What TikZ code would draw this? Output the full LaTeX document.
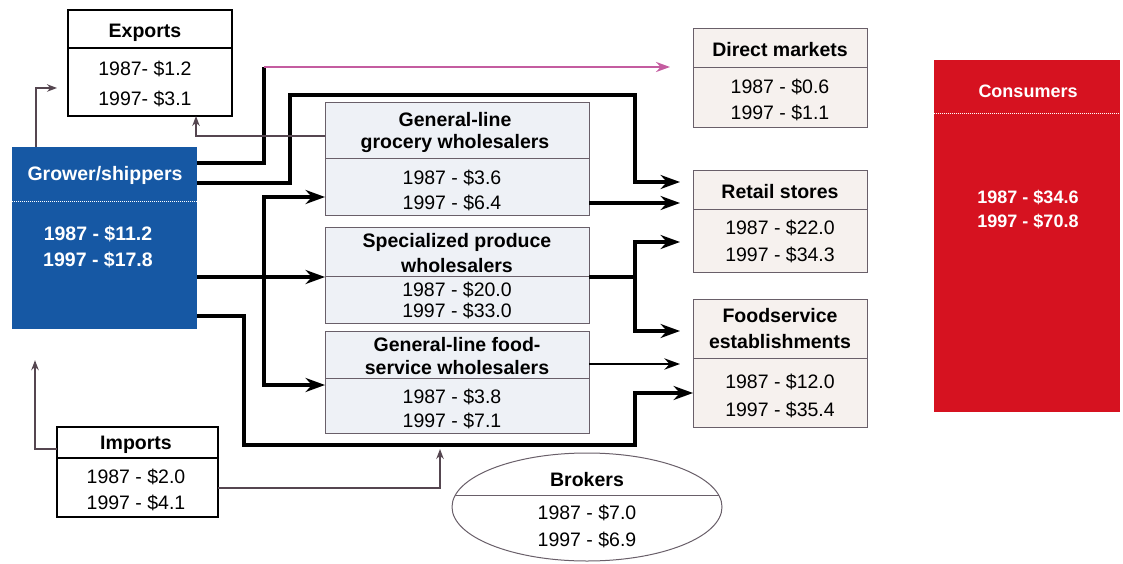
\documentclass[tikz,border=0pt]{standalone}
\usepackage{fontspec}
\setmainfont{Liberation Sans}
\usetikzlibrary{shapes.geometric,arrows.meta,calc}

\definecolor{growerblue}{RGB}{22,88,164}
\definecolor{consred}{RGB}{214,18,32}
\definecolor{wfill}{RGB}{238,241,246}
\definecolor{mfill}{RGB}{246,241,238}
\definecolor{edgegray}{RGB}{105,95,105}
\definecolor{feedline}{RGB}{85,70,80}
\definecolor{dmline}{RGB}{196,92,160}
\newcommand{\boxfont}{\fontsize{19.5}{23}\selectfont}
\newcommand{\consfont}{\fontsize{18}{22}\selectfont}

\begin{document}
\begin{tikzpicture}[
    x=1pt, y=-1pt,
    >={Stealth[length=8pt 3, width'=0pt 0.72]},
    box/.style={rectangle, draw=black, line width=1.5pt, fill=white, outer sep=0pt},
    wbox/.style={rectangle, draw=edgegray, line width=1pt, fill=wfill, outer sep=0pt},
    mbox/.style={rectangle, draw=edgegray, line width=1pt, fill=mfill, outer sep=0pt},
    head/.style={anchor=base, font=\boxfont\bfseries},
    val/.style={anchor=base, font=\boxfont},
    flow/.style={->, line width=3.8pt},
    feed/.style={-{Stealth[length=10pt, width=7.5pt]}, line width=1.4pt, draw=feedline}
]
\useasboundingbox (0,0) rectangle (1123,564);

% Boxes
\node[box, minimum width=164, minimum height=106] (exports) at (150,63) {};
\node[rectangle, fill=growerblue, minimum width=185, minimum height=182] (grower) at (104.5,238) {};
\node[mbox, minimum width=174, minimum height=99] (direct) at (780,78.5) {};
\node[mbox, minimum width=174, minimum height=101] (retail) at (780,221.5) {};
\node[mbox, minimum width=174, minimum height=128] (foodest) at (780,363) {};
\node[wbox, minimum width=264, minimum height=112] (grocery) at (457,159) {};
\node[wbox, minimum width=264, minimum height=96] (produce) at (457,275) {};
\node[wbox, minimum width=264, minimum height=102] (foodwh) at (457,382) {};
\node[box, minimum width=161, minimum height=90] (imports) at (137.5,472) {};
\node[ellipse, draw=edgegray, line width=1pt, fill=white, minimum width=270, minimum height=108] (brokers) at (587,507) {};
\node[rectangle, fill=consred, minimum width=186, minimum height=352] (consumers) at (1027,236) {};

% Dividers
\draw[line width=1.5pt] (exports.west |- 0,48) -- (exports.east |- 0,48);
\draw[white, line width=1pt, densely dotted] (grower.west |- 0,201) -- (grower.east |- 0,201);
\draw[edgegray, line width=1pt] (direct.west |- 0,68) -- (direct.east |- 0,68);
\draw[edgegray, line width=1pt] (retail.west |- 0,209) -- (retail.east |- 0,209);
\draw[edgegray, line width=1pt] (foodest.west |- 0,358) -- (foodest.east |- 0,358);
\draw[edgegray, line width=1pt] (grocery.west |- 0,159) -- (grocery.east |- 0,159);
\draw[edgegray, line width=1pt] (produce.west |- 0,276) -- (produce.east |- 0,276);
\draw[edgegray, line width=1pt] (foodwh.west |- 0,378) -- (foodwh.east |- 0,378);
\draw[line width=1.5pt] (imports.west |- 0,458) -- (imports.east |- 0,458);
\draw[edgegray, line width=1pt] (brokers.175) -- (brokers.5);
\draw[white, line width=1pt, densely dotted] (consumers.west |- 0,114) -- (consumers.east |- 0,114);

% Texts
\node[head] (exports-t) at (145,38) {Exports};
\node[val] (exports-a) at (145,76) {1987- \$1.2};
\node[val] (exports-b) at (145,106) {1997- \$3.1};
\node[head, white] (grower-t) at (105,181) {Grower/shippers};
\node[head, white] (grower-a) at (98,240) {1987 - \$11.2};
\node[head, white] (grower-b) at (98,266) {1997 - \$17.8};
\node[head] (direct-t) at (780,57) {Direct markets};
\node[val] (direct-a) at (780,94) {1987 - \$0.6};
\node[val] (direct-b) at (780,120) {1997 - \$1.1};
\node[head] (retail-t) at (780,198) {Retail stores};
\node[val] (retail-a) at (780,234) {1987 - \$22.0};
\node[val] (retail-b) at (780,261) {1997 - \$34.3};
\node[head] (foodest-t1) at (780,322) {Foodservice};
\node[head] (foodest-t2) at (780,348) {establishments};
\node[val] (foodest-a) at (780,388) {1987 - \$12.0};
\node[val] (foodest-b) at (780,416) {1997 - \$35.4};
\node[head] (grocery-t1) at (455,127) {General-line};
\node[head] (grocery-t2) at (455,149) {grocery wholesalers};
\node[val] (grocery-a) at (452,184) {1987 - \$3.6};
\node[val] (grocery-b) at (452,209) {1997 - \$6.4};
\node[head] (produce-t1) at (457,247) {Specialized produce};
\node[head] (produce-t2) at (457,272) {wholesalers};
\node[val] (produce-a) at (457,296) {1987 - \$20.0};
\node[val] (produce-b) at (457,317) {1997 - \$33.0};
\node[head] (foodwh-t1) at (457,351) {General-line food-};
\node[head] (foodwh-t2) at (457,374) {service wholesalers};
\node[val] (foodwh-a) at (452,403) {1987 - \$3.8};
\node[val] (foodwh-b) at (452,427) {1997 - \$7.1};
\node[head] (imports-t) at (136,449) {Imports};
\node[val] (imports-a) at (136,483) {1987 - \$2.0};
\node[val] (imports-b) at (136,509) {1997 - \$4.1};
\node[head] (brokers-t) at (587,486) {Brokers};
\node[val] (brokers-a) at (587,519) {1987 - \$7.0};
\node[val] (brokers-b) at (587,546) {1997 - \$6.9};
\node[head, white, font=\consfont\bfseries] (consumers-t) at (1028,98) {Consumers};
\node[head, white, font=\consfont\bfseries] (consumers-a) at (1028,203) {1987 - \$34.6};
\node[head, white, font=\consfont\bfseries] (consumers-b) at (1028,227) {1997 - \$70.8};

% Flows
\coordinate (dturn) at (264,67);
\draw[line width=3.8pt] (grower.east |- 0,163) -| (dturn);
\draw[->, line width=2pt, draw=dmline, shorten >=23pt] (dturn) -- (direct.west |- dturn);
\draw[flow, shorten >=13pt] (grower.east |- 0,183) -| (290,95) -| (635,182) -- (retail.west |- 0,182);
\draw[flow, shorten >=13pt] (grocery.east |- 0,203) -- (retail.west |- 0,203);
\coordinate (split) at (264,277);
\draw[flow] (grower.east |- split) -- (produce.west |- split);
\draw[flow] (split) |- (grocery.west |- 0,197);
\draw[flow] (split) |- (foodwh.west |- 0,385);
\draw[flow] (grower.east |- 0,316) -| (244,445) -| (635,393) -- (foodest.west |- 0,393);
\coordinate (fork) at (635,277);
\draw[line width=3.8pt] (produce.east |- fork) -- (fork);
\draw[flow, shorten >=13pt] (fork) |- (retail.west |- 0,242);
\draw[flow, shorten >=13pt] (fork) |- (foodest.west |- 0,331);
\draw[->, line width=2.5pt, shorten >=13pt] (foodwh.east |- 0,364) -- (foodest.west |- 0,364);

% Small flows
\draw[feed, shorten >=11pt] (36,0 |- grower.north) |- (exports.west |- 0,88);
\draw[feed] (grocery.west |- 0,136) -| (196,0 |- exports.south);
\draw[feed, shorten >=31pt] (imports.west |- 0,449) -| (35,0 |- grower.south);
\coordinate (bline) at (440,449);
\draw[feed] (imports.east |- 0,488) -| (bline);

\end{tikzpicture}
\end{document}
